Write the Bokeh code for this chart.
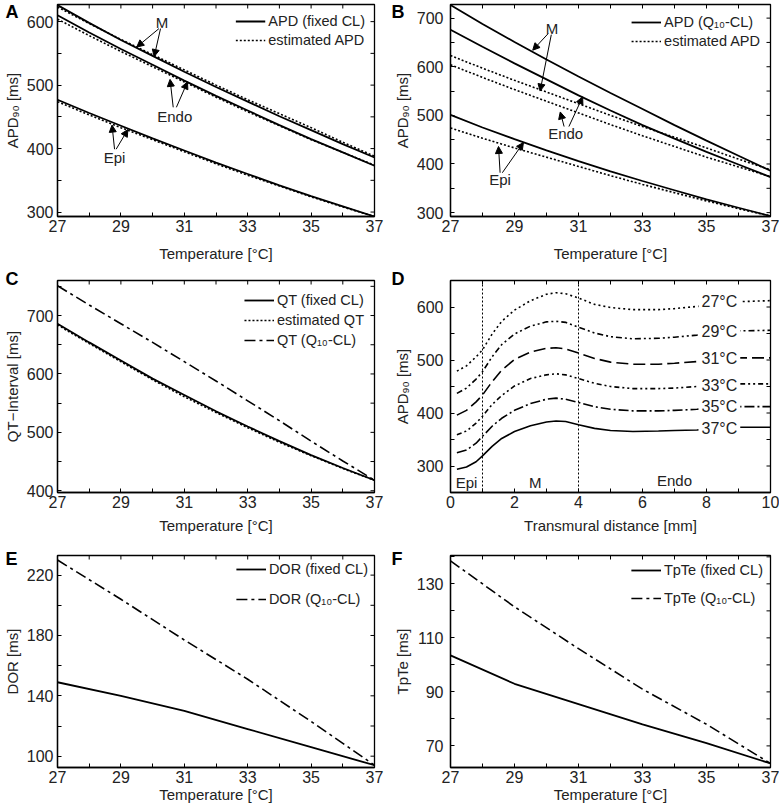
import math
from bokeh.plotting import figure
from bokeh.models import (Range1d, FixedTicker, Legend, LegendItem,
                          Label, Arrow, NormalHead, Span)
from bokeh.layouts import column, row
from bokeh.embed import file_html
from bokeh.resources import INLINE

FONT = "Liberation Sans"

# ---------------- data ----------------
temps = [27, 28, 29, 30, 31, 32, 33, 34, 35, 36, 37]
temps2 = [27, 29, 31, 33, 35, 37]

# Panel A: APD90 at fixed CL and estimated APD
apd_fixed_M = [626, 598, 571, 546, 521, 497, 474, 451, 429, 407, 386]
apd_fixed_endo = [610, 583, 557, 532, 507, 483, 460, 437, 415, 394, 373]
apd_fixed_epi = [477, 456, 436, 416, 397, 378, 360, 342, 325, 309, 293]
apd_est_M = [623, 597, 572, 548, 524, 500, 477, 455, 433, 410, 388]
apd_est_endo = [604, 578, 553, 529, 505, 481, 458, 436, 414, 394, 374]
apd_est_epi = [474, 453, 433, 414, 395, 376, 358, 341, 324, 308, 293]

# Panel B: APD90 at Q10-scaled CL
apd_q10_M = [727, 688, 651, 615, 580, 546, 513, 480, 448, 417, 386]
apd_q10_endo = [676, 641, 607, 574, 541, 510, 480, 452, 425, 399, 373]
apd_q10_epi = [501, 475, 451, 428, 406, 385, 365, 346, 327, 310, 293]

# Panel C: QT interval
qt_fixed = [686, 654, 623, 592, 564, 536, 510, 485, 461, 439, 418]
qt_est = [684, 652, 621, 590, 561, 534, 508, 483, 460, 438, 418]
qt_q10 = [751, 718, 686, 654, 621, 588, 554, 520, 485, 451, 418]

# Panel D: transmural APD90 profiles
dist_mm = [0.2, 0.5, 0.8, 1.0, 1.3, 1.6, 2.0, 2.5, 3.0, 3.3, 3.6, 4.0, 4.5,
           5.0, 5.7, 6.5, 7.0, 7.7, 8.5, 9.0, 10.0]
apd_27 = [479, 489, 506, 519, 549, 573, 594, 612, 624, 627, 625, 617, 605,
          599, 595, 595, 597, 601, 606, 610, 612]
apd_29 = [437, 447, 464, 478, 506, 529, 549, 564, 572, 573, 571, 562, 551,
          544, 540, 541, 543, 547, 552, 555, 556]
apd_31 = [396, 405, 421, 434, 459, 481, 501, 515, 522, 523, 521, 513, 503,
          496, 492, 492, 494, 497, 501, 504, 504]
apd_33 = [359, 366, 381, 394, 416, 433, 451, 465, 472, 474, 472, 465, 456,
          450, 446, 446, 447, 450, 453, 455, 455]
apd_35 = [325, 330, 343, 356, 375, 390, 405, 418, 426, 428, 426, 420, 412,
          407, 404, 404, 405, 407, 410, 412, 412]
apd_37 = [294, 298, 308, 319, 337, 352, 365, 376, 383, 385, 384, 378, 371,
          367, 365, 366, 367, 368, 371, 373, 373]
d_labels = ["27°C", "29°C", "31°C", "33°C", "35°C", "37°C"]
d_label_y = [610, 553, 502, 451, 412, 370]

# Panel E: dispersion of repolarisation
dor_fixed = [149, 140, 130, 118, 106, 94]
dor_q10 = [230, 204, 177, 151, 123, 94]

# Panel F: Tpeak-Tend
tpte_fixed = [103.5, 93, 85.5, 78, 71, 63.5]
tpte_q10 = [138.5, 121.5, 106, 91, 78, 63.5]

# ---------------- layout constants ----------------
H = 212
WF = 320
L_LEFT, R_LEFT = 54, 16     # left column figures
L_RIGHT, R_RIGHT = 60, 9    # right column figures
ROWS = [(4, 48), (16, 46), (17, 44)]   # (top border, bottom border)
XLAB_STANDOFF = [10, 6, 0]


def make_fig(col, rw, xr, yr, xt, xm, yt, ym, xlabel, ylabel, ylab_standoff=4):
    lb, rb = (L_LEFT, R_LEFT) if col == 0 else (L_RIGHT, R_RIGHT)
    tb, bb = ROWS[rw]
    p = figure(width=lb + WF + rb, height=tb + H + bb, x_range=Range1d(*xr),
               y_range=Range1d(*yr), output_backend="svg", toolbar_location=None,
               min_border_left=lb, min_border_right=rb, min_border_top=tb,
               min_border_bottom=bb)
    p.xgrid.visible = False
    p.ygrid.visible = False
    p.outline_line_color = "black"
    p.outline_line_width = 1.3
    p.outline_line_alpha = 1
    for ax in (p.xaxis[0], p.yaxis[0]):
        ax.major_tick_in = 4
        ax.major_tick_out = 0
        ax.minor_tick_in = 4
        ax.minor_tick_out = 0
        ax.major_tick_line_color = "black"
        ax.minor_tick_line_color = "black"
        ax.axis_line_color = "black"
        ax.axis_line_width = 1.3
        ax.major_label_text_font = FONT
        ax.major_label_text_font_size = "16px"
        ax.major_label_text_color = "#222222"
        ax.axis_label_text_font = FONT
        ax.axis_label_text_font_size = "15px"
        ax.axis_label_text_font_style = "normal"
        ax.axis_label_text_color = "#222222"
    p.xaxis[0].ticker = FixedTicker(ticks=xt, minor_ticks=xm)
    p.yaxis[0].ticker = FixedTicker(ticks=yt, minor_ticks=ym)
    p.xaxis[0].axis_label = xlabel
    p.yaxis[0].axis_label = ylabel
    p.xaxis[0].major_label_standoff = 3
    p.yaxis[0].major_label_standoff = ylab_standoff
    p.xaxis[0].axis_label_standoff = XLAB_STANDOFF[rw]
    p.yaxis[0].axis_label_standoff = 3
    # mirrored inward tick marks on the top and right frame edges
    xall = list(xt) + list(xm)
    yall = list(yt) + list(ym)
    p.scatter(xall, [yr[1]] * len(xall), marker="dash", angle=math.pi / 2, size=8,
              line_color="black", line_width=1)
    p.scatter([xr[1]] * len(yall), yall, marker="dash", size=8,
              line_color="black", line_width=1)
    return p


def panel_letter(p, txt, offset, standoff):
    t = p.title
    t.text = txt
    t.align = "left"
    t.vertical_align = "bottom"
    t.text_font = FONT
    t.text_font_size = "18px"
    t.text_font_style = "bold"
    t.text_color = "black"
    try:
        t.offset = offset
    except Exception:
        t.offset = 0
    try:
        t.standoff = standoff
    except Exception:
        t.standoff = 0


def add_legend(p, items, margin, spacing, label_height=16):
    leg = Legend(items=items, location="top_right", margin=margin, padding=0,
                 spacing=spacing, glyph_width=30, glyph_height=label_height,
                 label_height=label_height, label_standoff=3,
                 label_text_font=FONT, label_text_font_size="14.5px",
                 label_text_color="#222222",
                 border_line_color=None, background_fill_alpha=0)
    p.add_layout(leg)


def note(p, x, y, txt):
    p.add_layout(Label(x=x, y=y, text=txt, text_font=FONT, text_font_size="15px",
                       text_align="center", text_baseline="middle",
                       text_color="#222222"))


def arrow(p, xs, ys, xe, ye):
    p.add_layout(Arrow(end=NormalHead(size=7, fill_color="black", line_color="black"),
                       x_start=xs, y_start=ys, x_end=xe, y_end=ye,
                       line_width=1, line_color="black"))


tx_ticks = [27, 29, 31, 33, 35, 37]
tx_minor = [28, 30, 32, 34, 36]
TEMP_LABEL = "Temperature [°C]"
LW = 1.8
DOT = "2 2"
DASHDOT = "11 4 3 4"

# ---------------- Panel A ----------------
pA = make_fig(0, 0, (27, 37), (293, 627), tx_ticks, tx_minor,
              [300, 400, 500, 600], [350, 450, 550], TEMP_LABEL, "APD₉₀ [ms]")
rA = []
for ys in (apd_fixed_M, apd_fixed_endo, apd_fixed_epi):
    rA.append(pA.line(temps, ys, line_color="black", line_width=LW))
rAe = []
for ys in (apd_est_M, apd_est_endo, apd_est_epi):
    rAe.append(pA.line(temps, ys, line_color="black", line_width=1.6, line_dash=DOT))
add_legend(pA, [LegendItem(label="APD (fixed CL)", renderers=[rA[0]]),
                LegendItem(label="estimated APD", renderers=[rAe[0]])], 9, 3)
note(pA, 30.3, 598, "M")
arrow(pA, 30.2, 589, 29.5, 560)
arrow(pA, 30.25, 589, 30.05, 545)
note(pA, 30.7, 451, "Endo")
arrow(pA, 30.65, 465, 30.55, 509)
arrow(pA, 30.75, 465, 31.1, 505)
note(pA, 28.8, 386, "Epi")
arrow(pA, 28.8, 399, 28.72, 437)
arrow(pA, 28.85, 399, 29.22, 430)
panel_letter(pA, "A", -52, -34)

# ---------------- Panel B ----------------
pB = make_fig(1, 0, (27, 37), (292, 728), tx_ticks, tx_minor,
              [300, 400, 500, 600, 700], [350, 450, 550, 650], TEMP_LABEL,
              "APD₉₀ [ms]", ylab_standoff=7)
rB = []
for ys in (apd_q10_M, apd_q10_endo, apd_q10_epi):
    rB.append(pB.line(temps, ys, line_color="black", line_width=LW))
rBe = []
for ys in (apd_est_M, apd_est_endo, apd_est_epi):
    rBe.append(pB.line(temps, ys, line_color="black", line_width=1.6, line_dash=DOT))
add_legend(pB, [LegendItem(label="APD (Q₁₀-CL)", renderers=[rB[0]]),
                LegendItem(label="estimated APD", renderers=[rBe[0]])], 10, 3)
note(pB, 30.17, 678, "M")
arrow(pB, 30.05, 668, 29.57, 634)
arrow(pB, 30.15, 666, 29.8, 550)
note(pB, 30.6, 462, "Endo")
arrow(pB, 30.55, 477, 30.43, 507)
arrow(pB, 30.7, 477, 31.13, 538)
note(pB, 28.55, 368, "Epi")
arrow(pB, 28.55, 382, 28.5, 436)
arrow(pB, 28.62, 382, 29.28, 444)
panel_letter(pB, "B", -59, -34)

# ---------------- Panel C ----------------
pC = make_fig(0, 1, (27, 37), (397, 760), tx_ticks, tx_minor,
              [400, 500, 600, 700], [450, 550, 650, 750], TEMP_LABEL, "QT−Interval [ms]")
c1 = pC.line(temps, qt_fixed, line_color="black", line_width=LW)
c2 = pC.line(temps, qt_est, line_color="black", line_width=1.6, line_dash=DOT)
c3 = pC.line(temps, qt_q10, line_color="black", line_width=1.6, line_dash=DASHDOT)
add_legend(pC, [LegendItem(label="QT (fixed CL)", renderers=[c1]),
                LegendItem(label="estimated QT", renderers=[c2]),
                LegendItem(label="QT (Q₁₀-CL)", renderers=[c3])], 10, 0, label_height=20)
panel_letter(pC, "C", -52, -17)

# ---------------- Panel D ----------------
pD = make_fig(1, 1, (0, 10), (250, 650), [0, 2, 4, 6, 8, 10],
              [1, 3, 5, 7, 9], [300, 400, 500, 600], [350, 450, 550],
              "Transmural distance [mm]", "APD₉₀ [ms]", ylab_standoff=7)
d_dashes = ["2 3", "6 3 2 3 2 3", "12 5", "5 3 2 3 2 3", "10 3 2 3", "solid"]
for ys, dash in zip((apd_27, apd_29, apd_31, apd_33, apd_35, apd_37), d_dashes):
    pD.line(dist_mm, ys, line_color="black", line_width=1.6, line_dash=dash)
for loc in (1, 4):
    pD.add_layout(Span(location=loc, dimension="height", line_color="black",
                       line_width=1, line_dash="2 2"))
for txt, yy in zip(d_labels, d_label_y):
    pD.add_layout(Label(x=7.75, y=yy, text=txt, text_font=FONT, text_font_size="16px",
                        text_align="left", text_baseline="middle", text_color="#222222",
                        background_fill_color="white", background_fill_alpha=1.0,
                        padding=3))
note(pD, 0.5, 268, "Epi")
note(pD, 2.65, 268, "M")
note(pD, 7.0, 272, "Endo")
panel_letter(pD, "D", -59, -17)

# ---------------- Panel E ----------------
pE = make_fig(0, 2, (27, 37), (92.5, 233), tx_ticks, tx_minor,
              [100, 140, 180, 220], [120, 160, 200], TEMP_LABEL, "DOR [ms]")
e1 = pE.line(temps2, dor_fixed, line_color="black", line_width=LW)
e2 = pE.line(temps2, dor_q10, line_color="black", line_width=1.6, line_dash=DASHDOT)
add_legend(pE, [LegendItem(label="DOR (fixed CL)", renderers=[e1]),
                LegendItem(label="DOR (Q₁₀-CL)", renderers=[e2])], 6, 14)
panel_letter(pE, "E", -52, -27)

# ---------------- Panel F ----------------
pF = make_fig(1, 2, (27, 37), (62, 140.5), tx_ticks, tx_minor,
              [70, 90, 110, 130], [80, 100, 120, 140], TEMP_LABEL, "TpTe [ms]",
              ylab_standoff=7)
f1 = pF.line(temps2, tpte_fixed, line_color="black", line_width=LW)
f2 = pF.line(temps2, tpte_q10, line_color="black", line_width=1.6, line_dash=DASHDOT)
add_legend(pF, [LegendItem(label="TpTe (fixed CL)", renderers=[f1]),
                LegendItem(label="TpTe (Q₁₀-CL)", renderers=[f2])], 7, 12)
panel_letter(pF, "F", -59, -27)

layout = column(row(pA, pB), row(pC, pD), row(pE, pF))
open("out.html", "w").write(file_html(layout, INLINE))
